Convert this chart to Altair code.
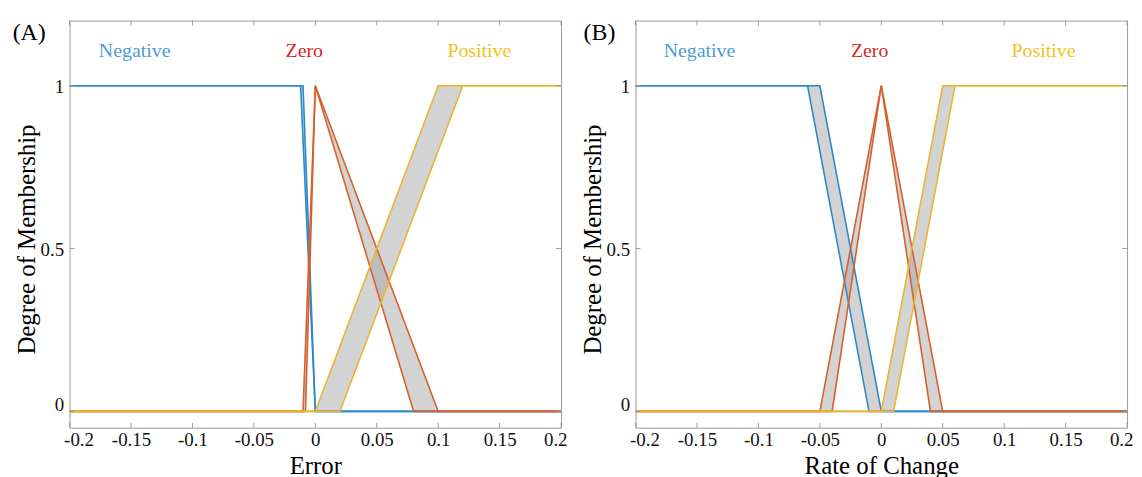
import altair as alt
import pandas as pd

# ---------------- data ----------------
X_TICKS = [-0.2, -0.15, -0.1, -0.05, 0, 0.05, 0.1, 0.15, 0.2]
Y_TICKS = [0, 0.5, 1]
MF_NAMES = ["Negative", "Zero", "Positive"]
MF_COLORS = ["#2f88c8", "#d5612d", "#ecb433"]
LABEL_COLORS = ["#4a9be0", "#dc1f1f", "#f2c21b"]

# Panel A (Error): two membership-function bounds per fuzzy set
A_NEG_1_X = [-0.2, -0.012, 0.0, 0.2]
A_NEG_2_X = [-0.2, -0.010, 0.0, 0.2]
A_NEG_Y = [1, 1, 0, 0]
A_ZERO_1_X = [-0.2, -0.010, 0.0, 0.10, 0.2]
A_ZERO_2_X = [-0.2, -0.008, 0.0, 0.08, 0.2]
A_ZERO_Y = [0, 0, 1, 0, 0]
A_POS_1_X = [-0.2, 0.0, 0.10, 0.2]
A_POS_2_X = [-0.2, 0.02, 0.12, 0.2]
A_POS_Y = [0, 0, 1, 1]

# Panel B (Rate of Change)
B_NEG_1_X = [-0.2, -0.06, -0.01, 0.2]
B_NEG_2_X = [-0.2, -0.05, 0.0, 0.2]
B_NEG_Y = [1, 1, 0, 0]
B_ZERO_1_X = [-0.2, -0.05, 0.0, 0.05, 0.2]
B_ZERO_2_X = [-0.2, -0.04, 0.0, 0.04, 0.2]
B_ZERO_Y = [0, 0, 1, 0, 0]
B_POS_1_X = [-0.2, 0.0, 0.05, 0.2]
B_POS_2_X = [-0.2, 0.01, 0.06, 0.2]
B_POS_Y = [0, 0, 1, 1]

# label positions (data coordinates)
A_LABEL_X = [-0.147, -0.009, 0.1335]
B_LABEL_X = [-0.148, -0.0095, 0.132]
LABEL_Y = 1.108
TAG_Y = 1.163
A_TAG_X = -0.2463
B_TAG_X = -0.2423

X_DOMAIN = [-0.2, 0.2]
Y_DOMAIN = [-0.05, 1.2]
TICK_LEN_X = 0.004
TICK_LEN_Y = 0.015

FONT = "Liberation Serif"


def panel(sets, label_x, tag, tag_x, xtitle):
    line_rows, band_rows = [], []
    for name, (x1, x2, ys) in zip(MF_NAMES, sets):
        for k, xs in enumerate((x1, x2)):
            for j, (x, y) in enumerate(zip(xs, ys)):
                line_rows.append({"mf": name, "line": f"{name}{k}", "i": j, "x": x, "y": y})
        for s in range(len(ys) - 1):
            if ys[s] != ys[s + 1]:
                for j in (s, s + 1):
                    band_rows.append({"band": f"{name}{s}", "y": ys[j],
                                      "xa": min(x1[j], x2[j]), "xb": max(x1[j], x2[j])})
    lines = pd.DataFrame(line_rows)
    bands = pd.DataFrame(band_rows)

    x_axis = alt.Axis(values=X_TICKS, tickSize=0, domain=False, grid=False,
                      labelExpr="datum.value + ''", labelPadding=3, titlePadding=4,
                      labelFlush=True, labelFlushOffset=6,
                      labelFont=FONT, labelFontSize=19, labelColor="#111111",
                      titleFont=FONT, titleFontSize=25, titleFontWeight="normal",
                      titleColor="#000000")
    y_axis = alt.Axis(values=Y_TICKS, tickSize=0, domain=False, grid=False,
                      labelExpr="datum.value + ''", labelPadding=6, titlePadding=1,
                      labelOffset={"condition": {"test": "datum.value == 0", "value": -7},
                                   "value": 1},
                      titleY=220, labelFont=FONT, labelFontSize=19, labelColor="#111111",
                      titleFont=FONT, titleFontSize=25, titleFontWeight="normal",
                      titleColor="#000000")

    def X(field):
        return alt.X(field, type="quantitative", title=xtitle,
                     scale=alt.Scale(domain=X_DOMAIN, nice=False, zero=False), axis=x_axis)

    def Y(field):
        return alt.Y(field, type="quantitative", title="Degree of Membership",
                     scale=alt.Scale(domain=Y_DOMAIN, nice=False, zero=False), axis=y_axis)

    band_layer = alt.Chart(bands).mark_area(orient="horizontal", color="#a8a8a8",
                                             opacity=0.5).encode(
        y=Y("y"), x=X("xa"), x2="xb", detail="band:N")

    line_layers = []
    for name, col in zip(MF_NAMES, MF_COLORS):
        line_layers.append(
            alt.Chart(lines[lines.mf == name]).mark_line(color=col, strokeWidth=1.6).encode(
                x=X("x"), y=Y("y"), detail="line:N", order="i:Q"))

    bt = pd.DataFrame({"x": X_TICKS,
                       "y": [Y_DOMAIN[0]] * len(X_TICKS),
                       "y2": [Y_DOMAIN[0] + TICK_LEN_Y] * len(X_TICKS)})
    tt = pd.DataFrame({"x": X_TICKS,
                       "y": [Y_DOMAIN[1]] * len(X_TICKS),
                       "y2": [Y_DOMAIN[1] - TICK_LEN_Y] * len(X_TICKS)})
    ticks_xy = pd.concat([bt, tt])
    xticks = alt.Chart(ticks_xy).mark_rule(color="#9a9a9a", strokeWidth=1).encode(
        x=X("x"), y=Y("y"), y2="y2")
    lt = pd.DataFrame({"x": [X_DOMAIN[0]] * 3, "x2": [X_DOMAIN[0] + TICK_LEN_X] * 3, "y": Y_TICKS})
    rt = pd.DataFrame({"x": [X_DOMAIN[1]] * 3, "x2": [X_DOMAIN[1] - TICK_LEN_X] * 3, "y": Y_TICKS})
    yticks = alt.Chart(pd.concat([lt, rt])).mark_rule(color="#9a9a9a", strokeWidth=1).encode(
        x=X("x"), x2="x2", y=Y("y"))

    lab = pd.DataFrame({"x": label_x, "y": [LABEL_Y] * 3, "t": MF_NAMES})
    labels = alt.Chart(lab).mark_text(font=FONT, fontSize=20, baseline="middle").encode(
        x=X("x"), y=Y("y"), text="t:N",
        color=alt.Color("t:N", scale=alt.Scale(domain=MF_NAMES, range=LABEL_COLORS), legend=None))

    tagdf = pd.DataFrame({"x": [tag_x], "y": [TAG_Y], "t": [tag]})
    tagl = alt.Chart(tagdf).mark_text(font=FONT, fontSize=24, align="left", baseline="middle",
                                      color="#000000").encode(x=X("x"), y=Y("y"), text="t:N")

    return alt.layer(band_layer, *line_layers, xticks, yticks, labels, tagl).properties(
        width=495, height=410)


A = panel([(A_NEG_1_X, A_NEG_2_X, A_NEG_Y), (A_ZERO_1_X, A_ZERO_2_X, A_ZERO_Y),
           (A_POS_1_X, A_POS_2_X, A_POS_Y)], A_LABEL_X, "(A)", A_TAG_X, "Error")
B = panel([(B_NEG_1_X, B_NEG_2_X, B_NEG_Y), (B_ZERO_1_X, B_ZERO_2_X, B_ZERO_Y),
           (B_POS_1_X, B_POS_2_X, B_POS_Y)], B_LABEL_X, "(B)", B_TAG_X, "Rate of Change")

chart = alt.hconcat(A, B, spacing=75, bounds="flush").properties(
    padding={"left": 4, "top": 10, "right": 0, "bottom": 0},
    background="white"
).configure_view(stroke="#9a9a9a", strokeWidth=1)

chart.save("out.html", embed_options={"renderer": "svg", "actions": False})
